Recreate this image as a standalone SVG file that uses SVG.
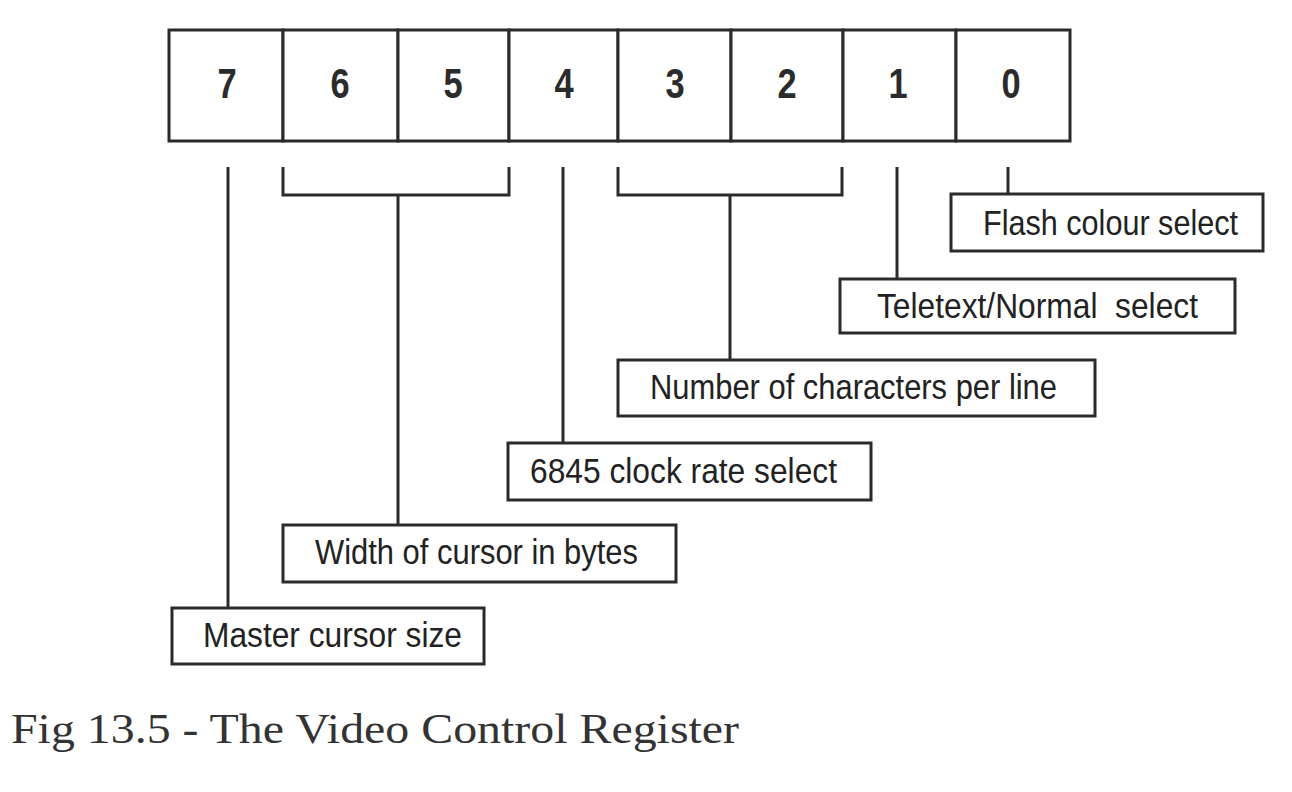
<svg xmlns="http://www.w3.org/2000/svg" width="1292" height="792" viewBox="0 0 1292 792">
<style>
.cell{fill:#fff;stroke:#2b2b2b;stroke-width:3}
.box{fill:#fff;stroke:#2b2b2b;stroke-width:3}
.bit{font-family:"Liberation Sans",Arial,sans-serif;font-weight:bold;font-size:42px;fill:#2b2b2b;text-anchor:middle}
.lbl{font-family:"Liberation Sans",Arial,sans-serif;font-size:35px;fill:#222}
.conn{fill:none;stroke:#2b2b2b;stroke-width:3}
.cap{font-family:"Liberation Serif","Times New Roman",serif;font-size:42px;fill:#333}
</style>
<rect width="1292" height="792" fill="#fff"/>
<g id="register">
<g id="bit7"><rect class="cell" x="169" y="30" width="114" height="111"/><text class="bit" transform="translate(227,98) scale(0.82,1)">7</text></g>
<g id="bit6"><rect class="cell" x="283" y="30" width="115" height="111"/><text class="bit" transform="translate(340,98) scale(0.82,1)">6</text></g>
<g id="bit5"><rect class="cell" x="398" y="30" width="111" height="111"/><text class="bit" transform="translate(453,98) scale(0.82,1)">5</text></g>
<g id="bit4"><rect class="cell" x="509" y="30" width="109" height="111"/><text class="bit" transform="translate(564,98) scale(0.82,1)">4</text></g>
<g id="bit3"><rect class="cell" x="618" y="30" width="113" height="111"/><text class="bit" transform="translate(675,98) scale(0.82,1)">3</text></g>
<g id="bit2"><rect class="cell" x="731" y="30" width="112" height="111"/><text class="bit" transform="translate(787,98) scale(0.82,1)">2</text></g>
<g id="bit1"><rect class="cell" x="843" y="30" width="113" height="111"/><text class="bit" transform="translate(898,98) scale(0.82,1)">1</text></g>
<g id="bit0"><rect class="cell" x="956" y="30" width="114" height="111"/><text class="bit" transform="translate(1011,98) scale(0.82,1)">0</text></g>
</g>
<g id="connectors">
<path class="conn" d="M228,167 V608"/>
<path class="conn" d="M283,167 V195 H509 V167 M398,195 V525"/>
<path class="conn" d="M563,167 V443"/>
<path class="conn" d="M618,167 V195 H842 V167 M730,195 V360"/>
<path class="conn" d="M897,167 V279"/>
<path class="conn" d="M1008,167 V194"/>
</g>
<g id="flash"><rect class="box" x="951" y="194" width="312" height="57"/><text class="lbl" x="983" y="235" textLength="255" lengthAdjust="spacingAndGlyphs">Flash colour select</text></g>
<g id="teletext"><rect class="box" x="840" y="279" width="395" height="54"/><text class="lbl" x="877" y="318" textLength="321" lengthAdjust="spacingAndGlyphs" xml:space="preserve">Teletext/Normal  select</text></g>
<g id="chars"><rect class="box" x="618" y="360" width="477" height="56"/><text class="lbl" x="650" y="399" textLength="407" lengthAdjust="spacingAndGlyphs">Number of characters per line</text></g>
<g id="clock"><rect class="box" x="508" y="443" width="363" height="57"/><text class="lbl" x="530" y="483" textLength="307" lengthAdjust="spacingAndGlyphs">6845 clock rate select</text></g>
<g id="width"><rect class="box" x="283" y="525" width="393" height="57"/><text class="lbl" x="315" y="564" textLength="323" lengthAdjust="spacingAndGlyphs">Width of cursor in bytes</text></g>
<g id="master"><rect class="box" x="172" y="608" width="312" height="56"/><text class="lbl" x="203" y="647" textLength="259" lengthAdjust="spacingAndGlyphs">Master cursor size</text></g>
<text class="cap" x="11" y="743" textLength="728" lengthAdjust="spacingAndGlyphs">Fig 13.5 - The Video Control Register</text>
</svg>
